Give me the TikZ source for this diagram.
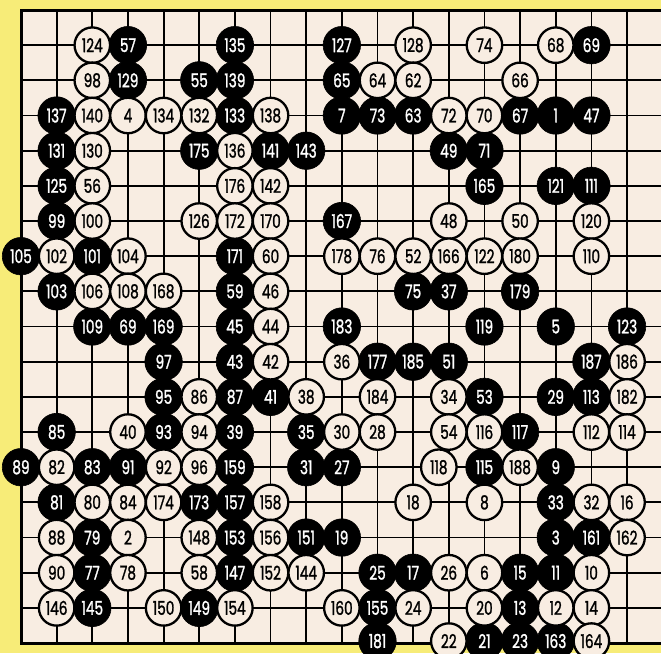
\documentclass[tikz,border=0pt]{standalone}
\usepackage{fontspec}
\setmainfont{Poppins}[FakeStretch=0.72,FakeBold=1.3]
\definecolor{paper}{HTML}{F8EDE2}
\definecolor{margin}{HTML}{F7EC78}
\begin{document}
\begin{tikzpicture}[x=1pt,y=-1pt,
  gridline/.style={line width=1.8pt,black},
  edgeline/.style={line width=3pt,black},
  numfont/.style={font=\fontsize{19}{19}\selectfont},
  bstone/.style={circle,fill=black,draw=black,line width=0.6pt,minimum size=37.5pt,inner sep=0pt,text=white,numfont},
  wstone/.style={circle,fill=paper,draw=black,line width=2.3pt,minimum size=35.5pt,inner sep=0pt,text=black,numfont}]
\useasboundingbox (0,0) rectangle (661,653);
\fill[margin] (0,0) rectangle (661,653);
\fill[paper] (21,10) rectangle (661,643);
% grid
\foreach \c in {1,...,17} \draw[gridline] ({21+35.65*\c},10) -- ({21+35.65*\c},643);
\foreach \r in {1,...,17} \draw[gridline] (21,{10+35.17*\r}) -- (661,{10+35.17*\r});
\draw[edgeline] (661,10) -- (21,10) -- (21,643) -- (661,643);
% black stones
\foreach \c/\r/\n in {
 3/1/57, 6/1/135, 9/1/127, 16/1/69,
 3/2/129, 5/2/55, 6/2/139, 9/2/65,
 1/3/137, 6/3/133, 9/3/7, 10/3/73, 11/3/63, 14/3/67, 15/3/1, 16/3/47,
 1/4/131, 5/4/175, 7/4/141, 8/4/143, 12/4/49, 13/4/71,
 1/5/125, 13/5/165, 15/5/121, 16/5/111,
 1/6/99, 9/6/167,
 0/7/105, 2/7/101, 6/7/171,
 1/8/103, 6/8/59, 11/8/75, 12/8/37, 14/8/179,
 2/9/109, 3/9/69, 4/9/169, 6/9/45, 9/9/183, 13/9/119, 15/9/5, 17/9/123,
 4/10/97, 6/10/43, 10/10/177, 11/10/185, 12/10/51, 16/10/187,
 4/11/95, 6/11/87, 7/11/41, 13/11/53, 15/11/29, 16/11/113,
 1/12/85, 4/12/93, 6/12/39, 8/12/35, 14/12/117,
 0/13/89, 2/13/83, 3/13/91, 6/13/159, 8/13/31, 9/13/27, 13/13/115, 15/13/9,
 1/14/81, 5/14/173, 6/14/157, 15/14/33,
 2/15/79, 6/15/153, 8/15/151, 9/15/19, 15/15/3, 16/15/161,
 2/16/77, 6/16/147, 10/16/25, 11/16/17, 14/16/15, 15/16/11,
 2/17/145, 5/17/149, 10/17/155, 14/17/13}
 \node[bstone] (b\c-\r) at ({21+35.65*\c},{10+35.17*\r}) {\n};
\foreach \c/\n in {10/181, 13/21, 14/23, 15/163}
 \node[bstone] (b\c-18) at ({21+35.65*\c},{10+35.17*18-2}) {\n};
% white stones
\foreach \c/\r/\n in {
 2/1/124, 11/1/128, 13/1/74, 15/1/68,
 2/2/98, 10/2/64, 11/2/62, 14/2/66,
 2/3/140, 3/3/4, 4/3/134, 5/3/132, 7/3/138, 12/3/72, 13/3/70,
 2/4/130, 6/4/136,
 2/5/56, 6/5/176, 7/5/142,
 2/6/100, 5/6/126, 6/6/172, 7/6/170, 12/6/48, 14/6/50, 16/6/120,
 1/7/102, 3/7/104, 7/7/60, 9/7/178, 10/7/76, 11/7/52, 12/7/166, 13/7/122, 14/7/180, 16/7/110,
 2/8/106, 3/8/108, 4/8/168, 7/8/46,
 7/9/44,
 7/10/42, 9/10/36, 17/10/186,
 5/11/86, 8/11/38, 10/11/184, 12/11/34, 17/11/182,
 3/12/40, 5/12/94, 9/12/30, 10/12/28, 12/12/54, 13/12/116, 16/12/112, 17/12/114,
 1/13/82, 4/13/92, 5/13/96, 14/13/188,
 2/14/80, 3/14/84, 4/14/174, 7/14/158, 11/14/18, 13/14/8, 16/14/32, 17/14/16,
 1/15/88, 3/15/2, 5/15/148, 7/15/156, 17/15/162,
 1/16/90, 3/16/78, 5/16/58, 7/16/152, 8/16/144, 12/16/26, 13/16/6, 16/16/10,
 1/17/146, 4/17/150, 6/17/154, 9/17/160, 11/17/24, 13/17/20, 15/17/12, 16/17/14}
 \node[wstone] (w\c-\r) at ({21+35.65*\c},{10+35.17*\r}) {\n};
\foreach \c/\n in {12/22, 16/164}
 \node[wstone] (w\c-18) at ({21+35.65*\c},{10+35.17*18-2}) {\n};
% stone printed slightly off its point
\node[wstone] (w12-13) at ({21+35.65*12-10},{10+35.17*13}) {118};
\end{tikzpicture}
\end{document}
